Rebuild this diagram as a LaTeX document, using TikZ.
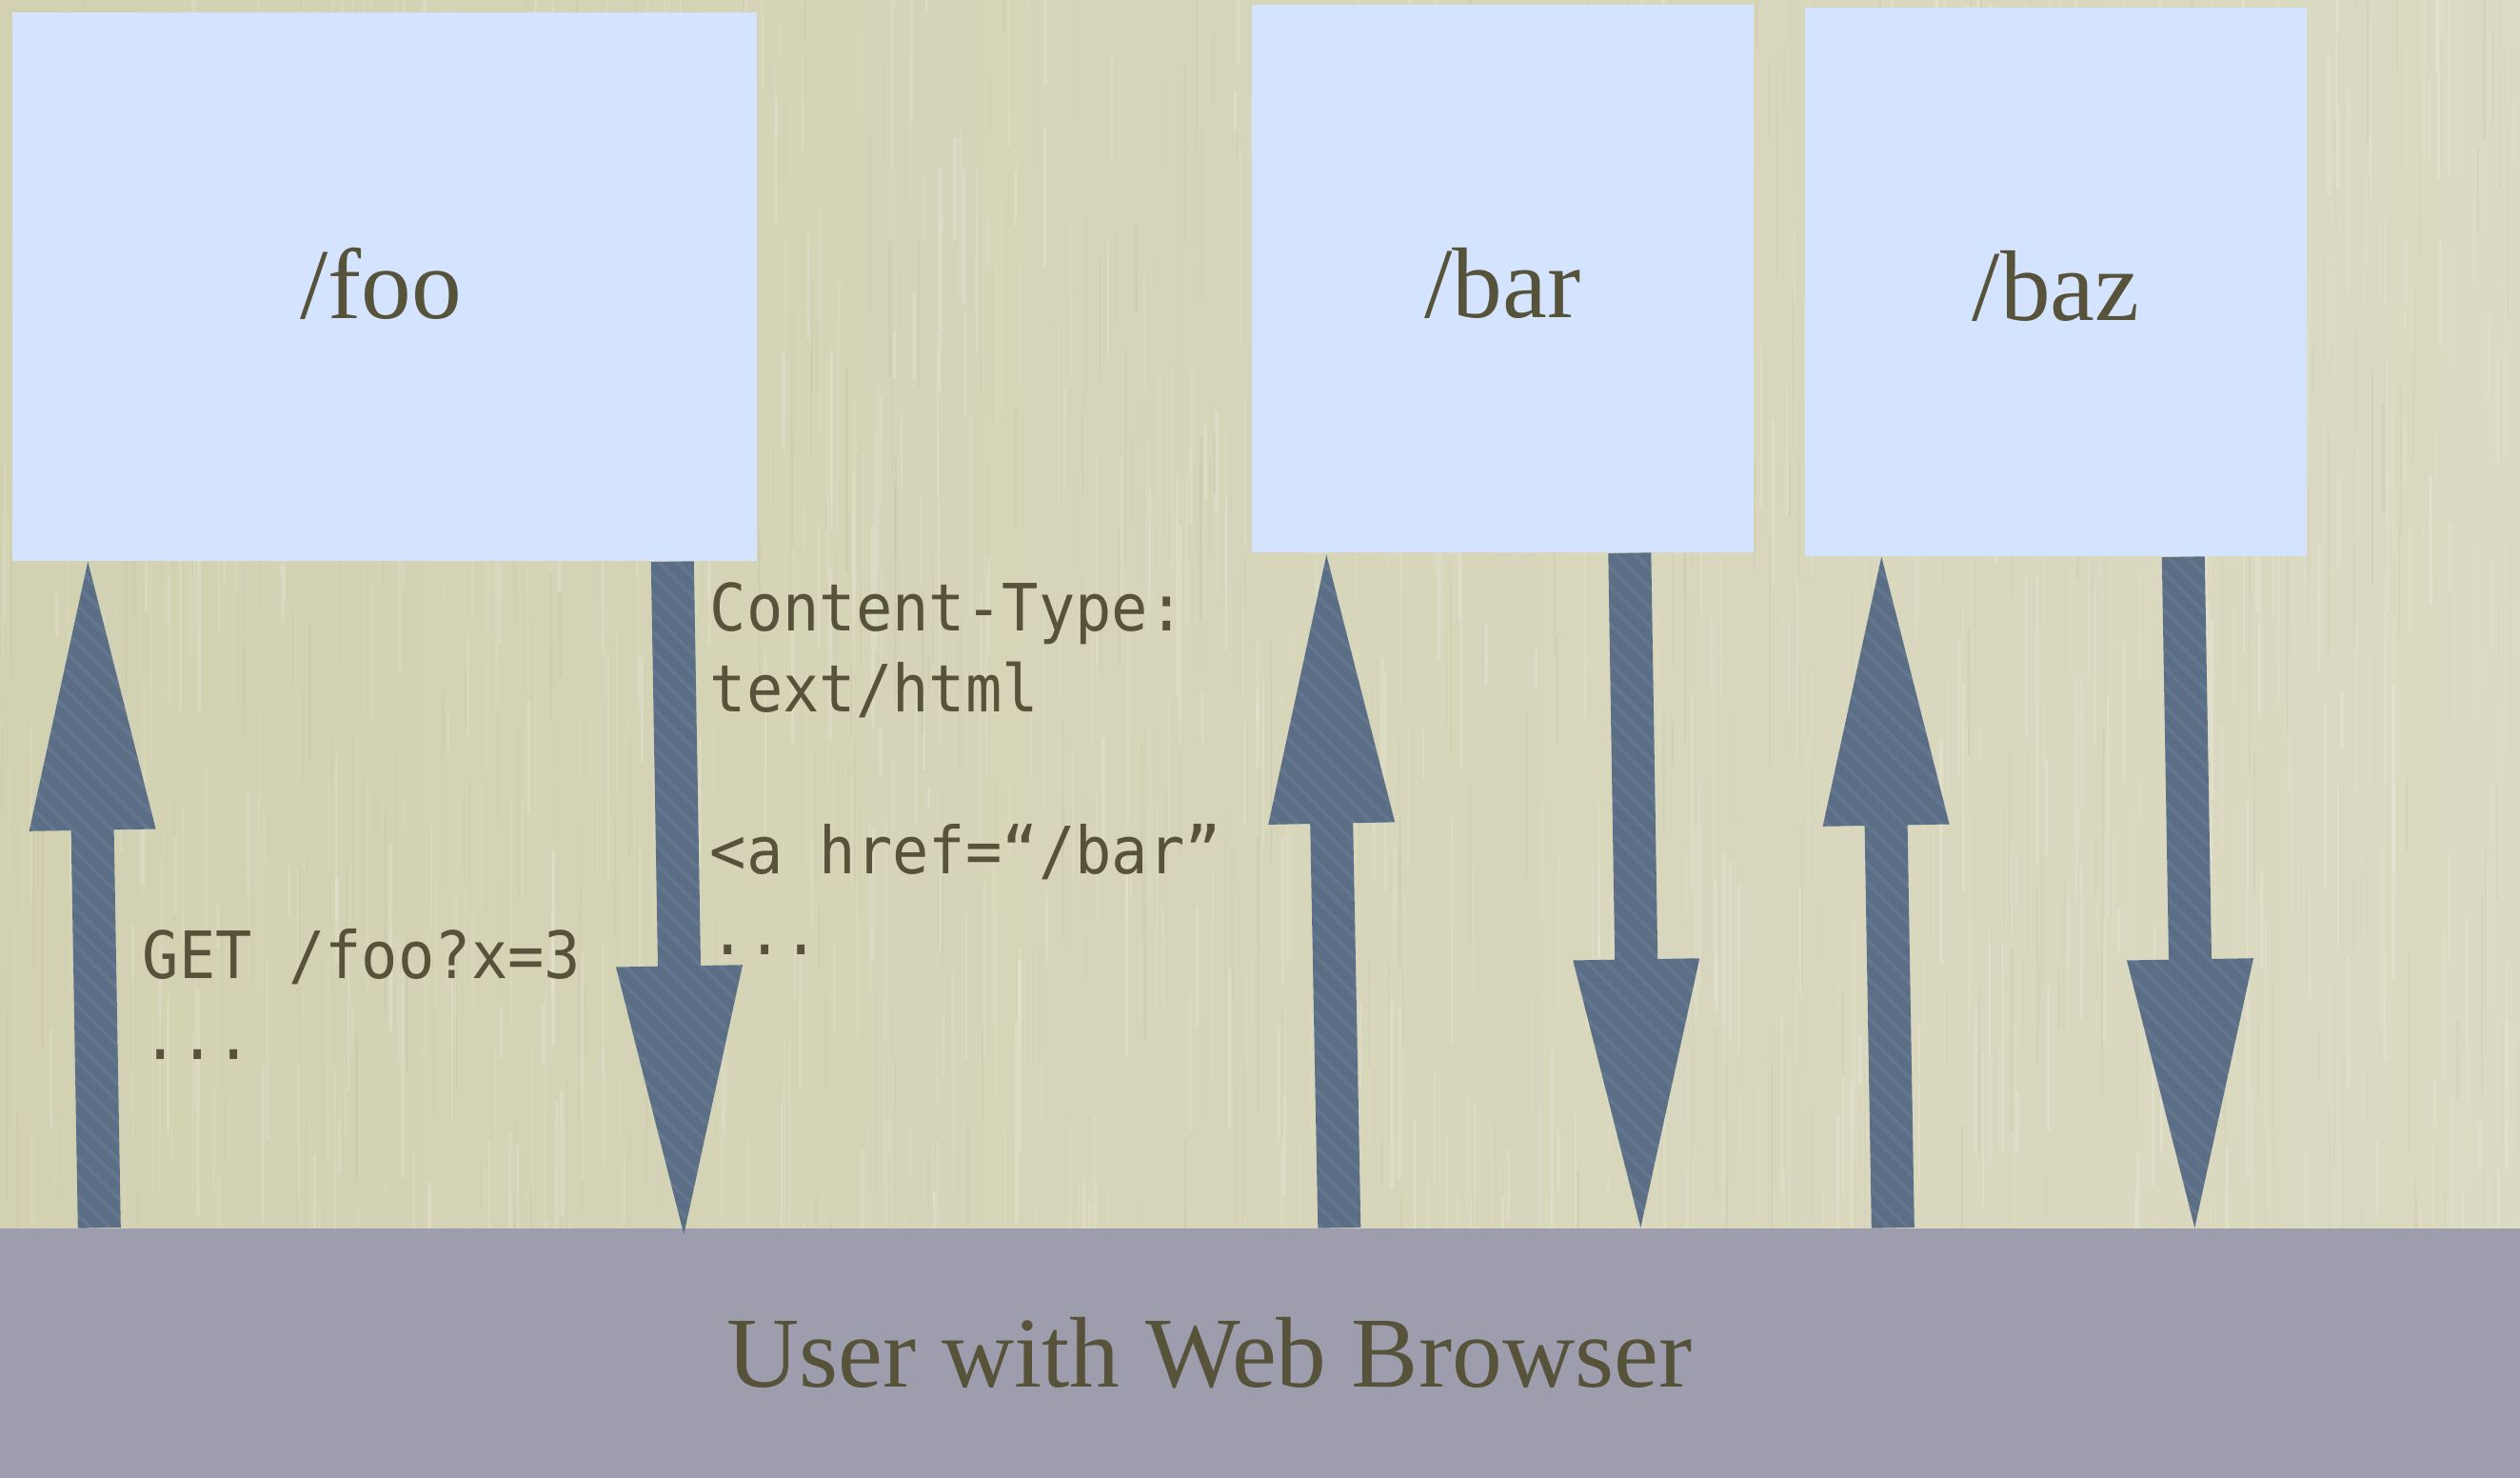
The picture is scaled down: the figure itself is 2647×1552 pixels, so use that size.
\documentclass[tikz,border=0pt]{standalone}
\usepackage{fontspec}
\setmainfont{Liberation Serif}
\newfontfamily\codefont[FakeStretch=0.93]{DejaVu Sans Mono}
\usetikzlibrary{calc,patterns.meta}

\definecolor{paperleft}{HTML}{D2D1B2}
\definecolor{paperright}{HTML}{DBDAC2}
\definecolor{paperstreak}{HTML}{B3B190}
\definecolor{pagefill}{HTML}{D4E4FF}
\definecolor{browserfill}{HTML}{9E9DAD}
\definecolor{flowfill}{HTML}{5A6E86}
\definecolor{ink}{HTML}{56533A}

\tikzset{
  pagebox/.style={rectangle, fill=pagefill, draw=none, inner sep=0pt},
  browserbox/.style={rectangle, fill=browserfill, draw=none, inner sep=0pt},
  title/.style={font=\fontsize{30}{36}\selectfont, text=ink, inner sep=0pt, anchor=base},
  code/.style={font=\codefont\fontsize{19.5}{24.2}\selectfont, text=ink, inner sep=0pt, anchor=base west},
  flow/.style={fill=flowfill,
    postaction={pattern={Lines[angle=-45,distance=4pt,line width=1.2pt]},
                pattern color=white, opacity=0.06}},
}

% Block arrow: #1 name, #2 tail point, #3 tip point
\newcommand{\blockarrow}[3]{%
  \coordinate (#1-head) at ($(#3)!28.2mm!(#2)$);
  \path[flow] ($(#2)!2.25mm!90:(#3)$)
    -- ($(#1-head)!2.25mm!90:(#3)$)
    -- ($(#1-head)!6.65mm!90:(#3)$)
    -- (#3)
    -- ($(#1-head)!6.65mm!-90:(#3)$)
    -- ($(#1-head)!2.25mm!-90:(#3)$)
    -- ($(#2)!2.25mm!-90:(#3)$) -- cycle;
}

\begin{document}
\begin{tikzpicture}[x=0.1mm, y=-0.1mm]
  \useasboundingbox (0,0) rectangle (2647,1552);

  % paper background with fine vertical grain
  \shade[left color=paperleft, right color=paperright] (0,0) rectangle (2647,1290);
  \begin{scope}
    \clip (0,0) rectangle (2647,1290);
    \pgfmathsetseed{42}
    \foreach \i in {1,...,1100}{
      \pgfmathsetmacro{\stX}{rnd*2647}
      \pgfmathsetmacro{\stY}{rnd*1400-100}
      \pgfmathsetmacro{\stL}{40+rnd*200}
      \pgfmathsetmacro{\stW}{0.1+rnd*0.3}
      \pgfmathsetmacro{\stO}{0.05+rnd*0.12}
      \draw[white, line width=\stW mm, opacity=\stO] (\stX,\stY) -- ++(0,\stL);
    }
    \foreach \i in {1,...,600}{
      \pgfmathsetmacro{\stX}{rnd*2647}
      \pgfmathsetmacro{\stY}{rnd*1400-100}
      \pgfmathsetmacro{\stL}{40+rnd*200}
      \pgfmathsetmacro{\stW}{0.08+rnd*0.2}
      \pgfmathsetmacro{\stO}{0.05+rnd*0.12}
      \draw[paperstreak, line width=\stW mm, opacity=\stO] (\stX,\stY) -- ++(0,\stL);
    }
  \end{scope}

  % resources
  \node[pagebox, minimum width=78.2mm, minimum height=57.6mm] (foo) at (404,301) {};
  \node[pagebox, minimum width=52.7mm, minimum height=57.5mm] (bar) at (1578.5,292.5) {};
  \node[pagebox, minimum width=52.7mm, minimum height=57.6mm] (baz) at (2159.5,296) {};

  % the browser
  \node[browserbox, minimum width=264.7mm, minimum height=26.2mm] (user) at (1323.5,1421) {};

  % request / response arrows
  \coordinate (fooReqTail) at ($(user.north west)+(105,0)$);
  \coordinate (fooReqTip)  at ($(foo.south west)+(80,0)$);
  \coordinate (fooResTail) at ($(foo.south west)+(694,0)$);
  \coordinate (fooResTip)  at ($(user.north west)+(719,7)$);
  \coordinate (barReqTail) at ($(user.north west)+(1407.5,0)$);
  \coordinate (barReqTip)  at ($(bar.south west)+(79,2)$);
  \coordinate (barResTail) at ($(bar.south west)+(397.5,0)$);
  \coordinate (barResTip)  at ($(user.north west)+(1724,0)$);
  \coordinate (bazReqTail) at ($(user.north west)+(1989,0)$);
  \coordinate (bazReqTip)  at ($(baz.south west)+(81,0)$);
  \coordinate (bazResTail) at ($(baz.south west)+(398,0)$);
  \coordinate (bazResTip)  at ($(user.north west)+(2306,0)$);

  \blockarrow{fooReq}{fooReqTail}{fooReqTip}
  \blockarrow{fooRes}{fooResTail}{fooResTip}
  \blockarrow{barReq}{barReqTail}{barReqTip}
  \blockarrow{barRes}{barResTail}{barResTip}
  \blockarrow{bazReq}{bazReqTail}{bazReqTip}
  \blockarrow{bazRes}{bazResTail}{bazResTip}

  % labels
  \node[title] (fooLabel) at ($(foo.center)+(-4,34)$) {/foo};
  \node[title] (barLabel) at ($(bar.center)+(0,41.5)$) {/bar};
  \node[title] (bazLabel) at ($(baz.center)+(0,41)$) {/baz};
  \node[title] (userLabel) at ($(user.center)+(-53,35)$) {User with Web Browser};

  \node[code] (request) at (149,1027) {\vtop{\hbox{GET /foo?x=3}\hbox{...}}};
  \node[code] (response) at (745,662)
    {\vtop{\hbox{Content-Type:}\hbox{text/html}\hbox{}\hbox{<a href=“/bar”}\hbox{...}}};
\end{tikzpicture}
\end{document}
